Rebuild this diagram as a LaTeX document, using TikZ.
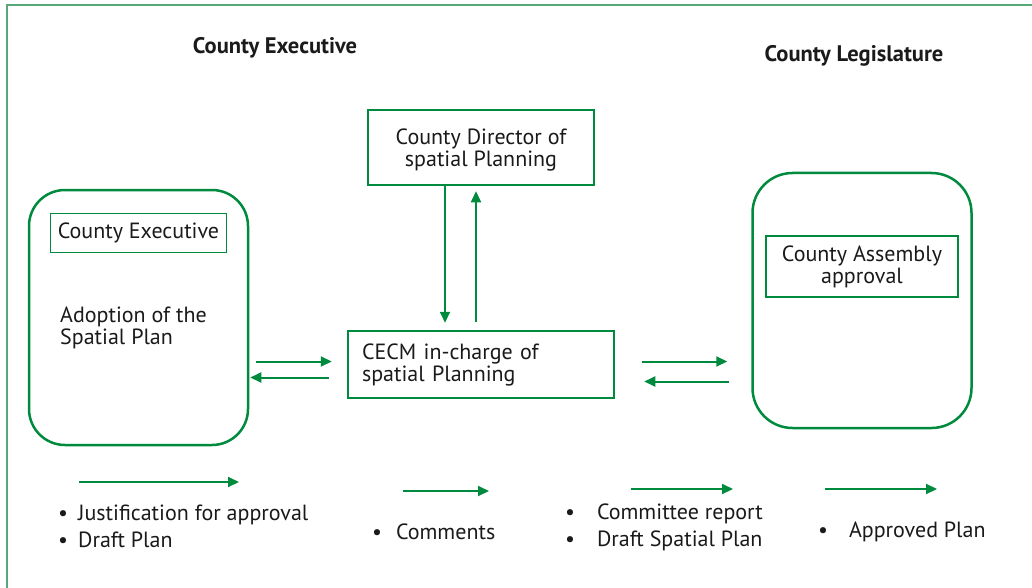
\documentclass[tikz,border=0pt]{standalone}
\usepackage{fontspec}
\setmainfont{PT Sans}
\usetikzlibrary{arrows.meta,positioning,calc}

\definecolor{boxgreen}{HTML}{008A3E}
\definecolor{framegreen}{HTML}{55A878}
\definecolor{ink}{HTML}{1A1A1A}

\newcommand{\itm}[1][10pt]{\textbullet\hspace{#1}}

\begin{document}
\begin{tikzpicture}[
  x=1pt, y=-1pt,
  every node/.style={text=ink, font=\fontsize{22}{22}\selectfont},
  title/.style={font=\bfseries\fontsize{22.5}{24}\selectfont},
  roundbox/.style={draw=boxgreen, line width=2.5pt, rounded corners=36pt,
    minimum width=219pt, minimum height=255pt},
  sqbox/.style={draw=boxgreen, line width=2.5pt, align=center},
  txt/.style={inner sep=0pt, align=left},
  lst/.style={inner sep=0pt, align=left, font=\fontsize{22}{27}\selectfont},
  arr/.style={draw=boxgreen, line width=2pt, -{Triangle[length=11pt,width=10pt]}}
]
\useasboundingbox (0,0) rectangle (1032,588);
\draw[framegreen, line width=2pt] (1032,5) -- (7,5) -- (7,588);

% headings
\node[title] (exectitle) at (275,48) {County Executive};
\node[title] (legtitle) at (854,56) {County Legislature};

% county executive side
\node[roundbox] (exec) at (138.5,317.5) {};
\node[draw=boxgreen, line width=1.3pt, minimum width=176pt, minimum height=39pt,
  below=24pt of exec.north] (execin) {County Executive};
\node[txt, anchor=west] (adopt) at (60,328) {Adoption of the\\Spatial Plan};

% planning offices
\node[sqbox, minimum width=226pt, minimum height=75pt, text depth=0pt] (dir)
  at (481,147.5) {County Director of\\spatial Planning};
\node[sqbox, minimum width=266pt, minimum height=67pt, text width=238pt,
  align=left] (cecm) at (481,364.5) {CECM in-charge of\\spatial Planning};

% county legislature side
\node[roundbox, rounded corners=40pt] (leg) at (862,300.5) {};
\node[sqbox, minimum width=192pt, minimum height=61pt,
  below=63pt of leg.north] (assembly) {County Assembly\\approval};

% exchanges
\draw[arr] ($(exec.east |- cecm.west)+(7,-3)$) -- ($(cecm.west)+(-15,-3)$);
\draw[arr] ($(cecm.west)+(-18,13)$) -- ($(exec.east |- cecm.west)+(1,13)$);
\draw[arr] ($(dir.south)+(-36,0)$) -- ($(cecm.north)+(-36,-7)$);
\draw[arr] ($(cecm.north)+(-5,-8)$) -- ($(dir.south)+(-5,5)$);
\draw[arr] ($(cecm.east)+(27,-3)$) -- ($(leg.west |- cecm.east)+(-24,-3)$);
\draw[arr] ($(leg.west |- cecm.east)+(-22,17)$) -- ($(cecm.east)+(29,17)$);

% legend arrows
\coordinate (j1) at (79,482);  \coordinate (j2) at (239,482);
\coordinate (c1) at (403,491); \coordinate (c2) at (489,491);
\coordinate (r1) at (631,489); \coordinate (r2) at (733,489);
\coordinate (p1) at (825,489); \coordinate (p2) at (937,489);
\draw[arr] (j1) -- (j2);
\draw[arr] (c1) -- (c2);
\draw[arr] (r1) -- (r2);
\draw[arr] (p1) -- (p2);

% what is passed on
\node[lst, anchor=west] (justif) at (58,526.5)
  {\itm Justification for approval\\\itm Draft Plan};
\node[lst, anchor=west] (comments) at (372,532) {\itm[8pt] Comments};
\node[lst, anchor=west] (report) at (565,527.5)
  {\itm[16pt] Committee report\\\itm[16pt] Draft Spatial Plan};
\node[lst, anchor=west] (approved) at (818,532) {\itm[15pt] Approved Plan};
\end{tikzpicture}
\end{document}
